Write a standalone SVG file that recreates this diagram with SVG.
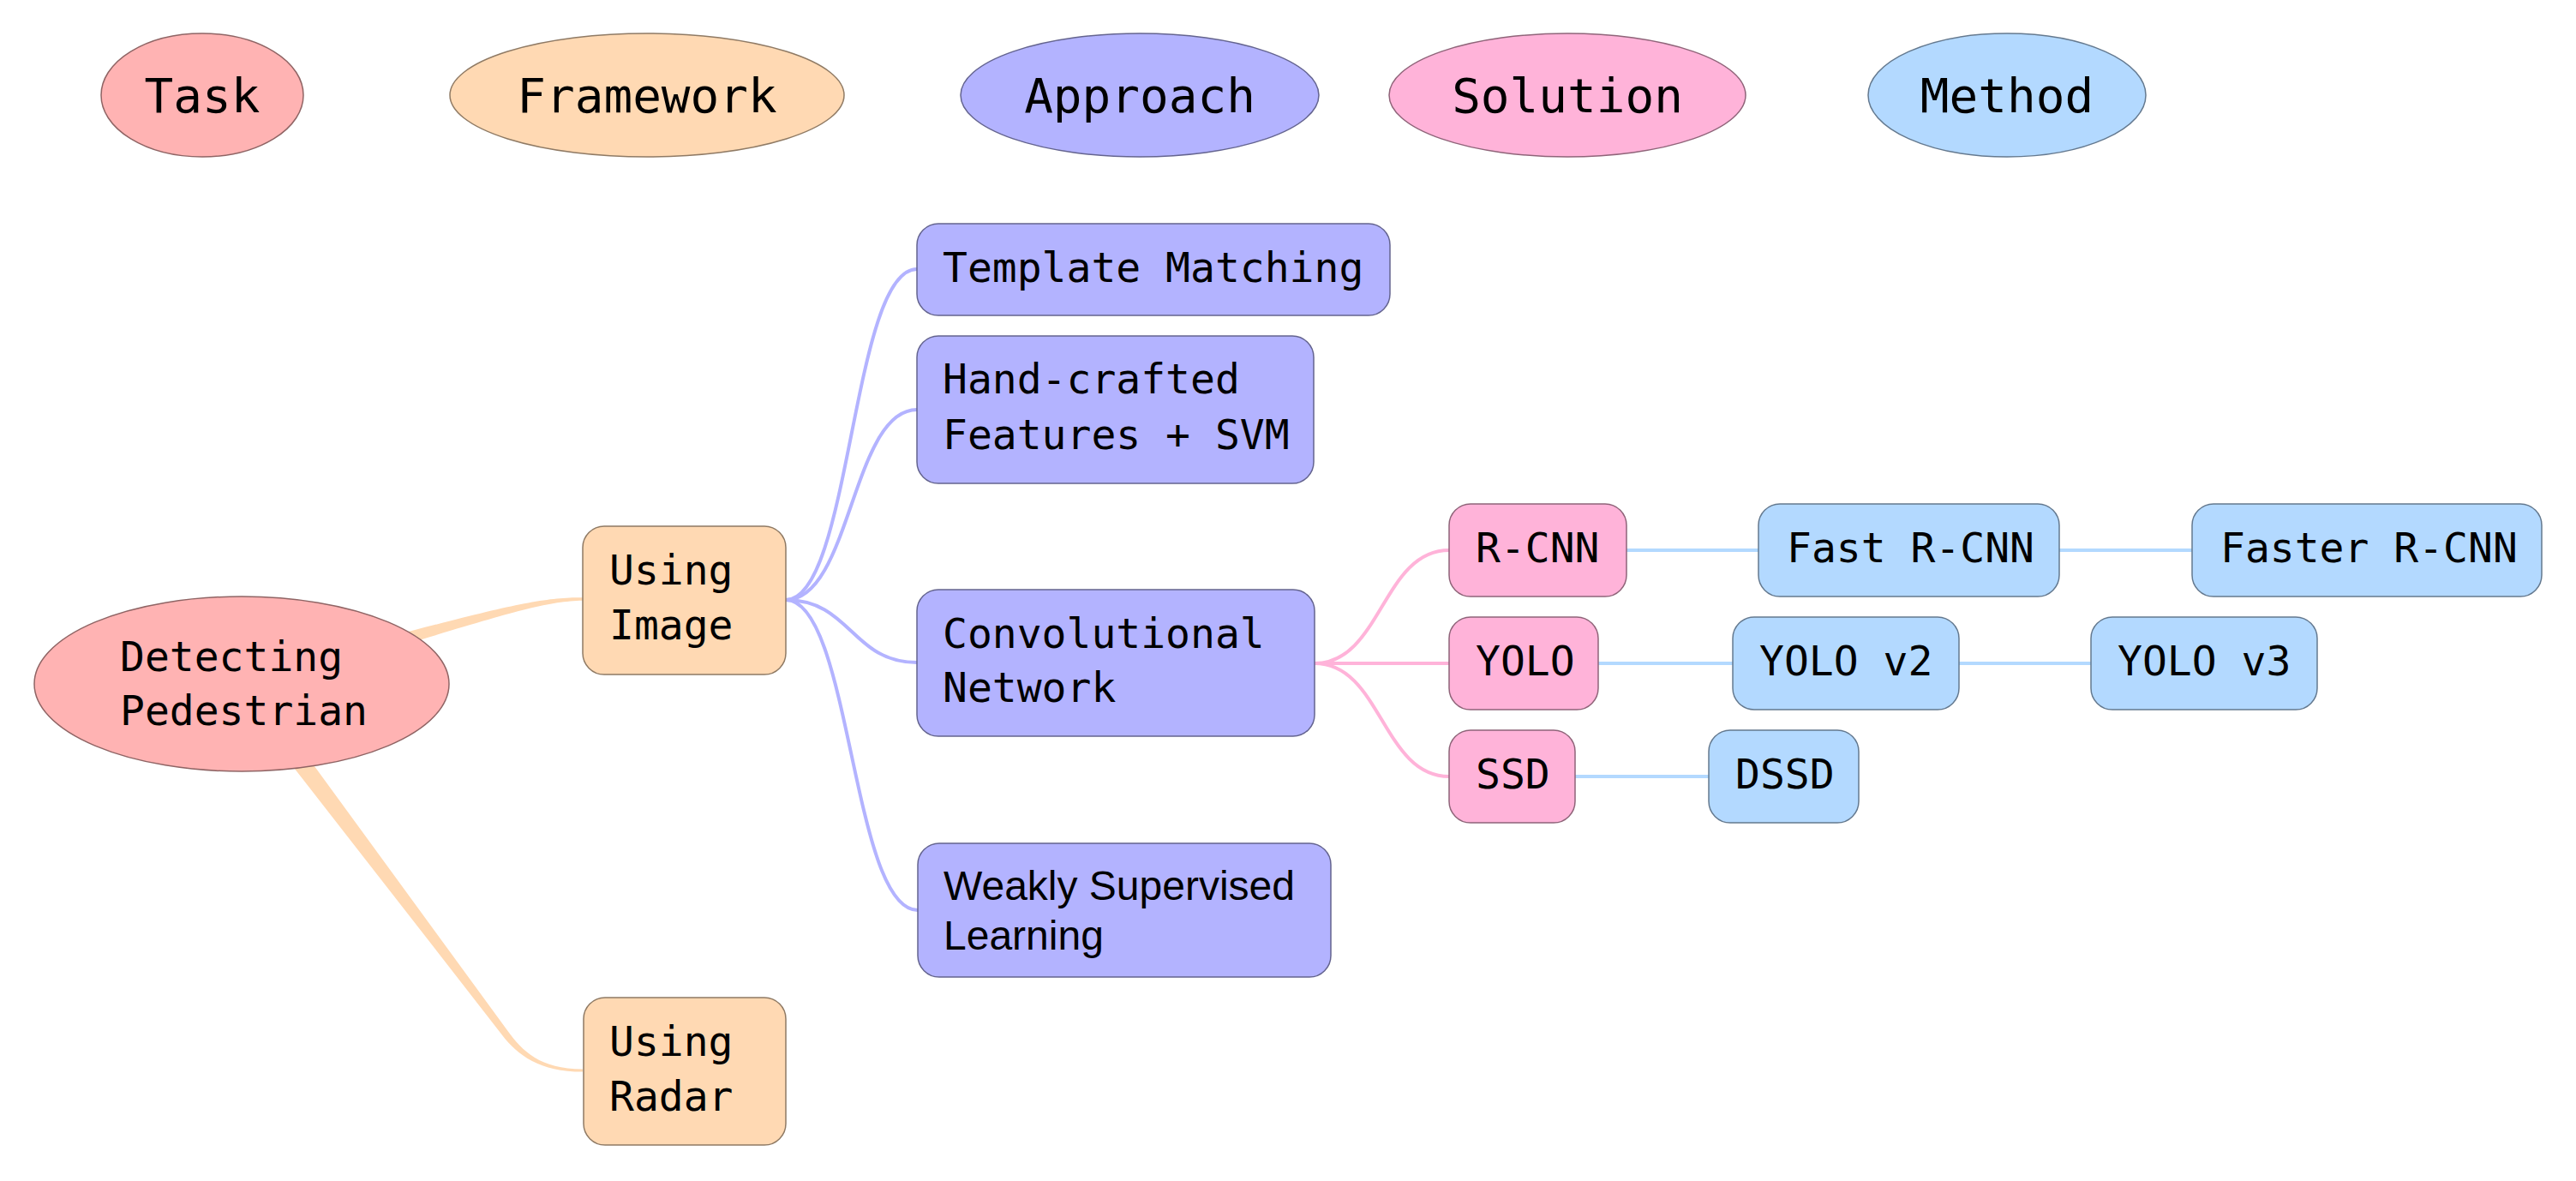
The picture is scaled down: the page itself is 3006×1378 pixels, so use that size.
<svg xmlns="http://www.w3.org/2000/svg" width="3006" height="1378" viewBox="0 0 3006 1378">
<style>
.t{font-family:"DejaVu Sans Mono","Liberation Mono",monospace;font-size:48px;fill:#000}
.lg{font-family:"DejaVu Sans Mono","Liberation Mono",monospace;font-size:56px;fill:#000;text-anchor:middle}
.s{font-family:"Liberation Sans",Arial,sans-serif;font-size:48px;fill:#000}
.task{fill:#FFB3B3;stroke:#8F6464;stroke-width:1.5}
.fw{fill:#FFD9B3;stroke:#8F7A64;stroke-width:1.5}
.ap{fill:#B3B3FF;stroke:#64648F;stroke-width:1.5}
.so{fill:#FFB3D9;stroke:#8F6479;stroke-width:1.5}
.me{fill:#B3D9FF;stroke:#64798F;stroke-width:1.5}
.ca{fill:none;stroke:#B3B3FF;stroke-width:4}
.cs{fill:none;stroke:#FFB3D9;stroke-width:4}
.cm{fill:none;stroke:#B3D9FF;stroke-width:4}
.cf{fill:#FFD9B3;stroke:none}
</style>
<rect width="3006" height="1378" fill="#fff"/>
<g id="legend">
<g id="legend-task"><ellipse class="task" cx="236" cy="111" rx="118" ry="72"/><text class="lg" x="236" y="131">Task</text></g>
<g id="legend-framework"><ellipse class="fw" cx="755" cy="111" rx="230" ry="72"/><text class="lg" x="755" y="131">Framework</text></g>
<g id="legend-approach"><ellipse class="ap" cx="1330" cy="111" rx="209" ry="72"/><text class="lg" x="1330" y="131">Approach</text></g>
<g id="legend-solution"><ellipse class="so" cx="1829" cy="111" rx="208" ry="72"/><text class="lg" x="1829" y="131">Solution</text></g>
<g id="legend-method"><ellipse class="me" cx="2342" cy="111" rx="162" ry="72"/><text class="lg" x="2342" y="131">Method</text></g>
</g>
<g id="connectors">
<path class="cf" d="M 279.6 788.8 C 558.4 716.2 620 696 680 697.25 L 680 700.75 C 620 702 561.6 727.8 284.4 807.2 Z"/>
<path class="cf" d="M 291.6 790.8 L 592.2 1202.6 C 610 1226.8 630 1247.5 680 1247.5 L 680 1250.5 C 630 1250.5 604 1231.2 585.8 1207.4 L 272.4 805.2 Z"/>
<path class="ca" d="M 917 700 C 993 700 994 314 1070 314"/>
<path class="ca" d="M 917 700 C 993 700 994 478 1070 478"/>
<path class="ca" d="M 917 700 C 993 700 994 773 1070 773"/>
<path class="ca" d="M 917 700 C 993 700 994 1062 1071 1062"/>
<path class="cs" d="M 1534 774 C 1612 774 1613 642 1691 642"/>
<path class="cs" d="M 1534 774 L 1691 774"/>
<path class="cs" d="M 1534 774 C 1612 774 1613 906 1691 906"/>
<path class="cm" d="M 1898 642 L 2052 642"/>
<path class="cm" d="M 2403 642 L 2558 642"/>
<path class="cm" d="M 1865 774 L 2022 774"/>
<path class="cm" d="M 2286 774 L 2440 774"/>
<path class="cm" d="M 1838 906 L 1994 906"/>
</g>
<g id="detecting-pedestrian"><ellipse class="task" cx="282" cy="798" rx="242" ry="102"/><text class="t" x="140" y="783">Detecting</text><text class="t" x="140" y="846">Pedestrian</text></g>
<g id="using-image"><rect class="fw" x="680" y="614" width="237" height="173" rx="25"/><text class="t" x="711" y="682">Using</text><text class="t" x="711" y="746">Image</text></g>
<g id="using-radar"><rect class="fw" x="681" y="1164" width="236" height="172" rx="25"/><text class="t" x="711" y="1232">Using</text><text class="t" x="711" y="1296">Radar</text></g>
<g id="template-matching"><rect class="ap" x="1070" y="261" width="552" height="107" rx="25"/><text class="t" x="1100" y="329">Template Matching</text></g>
<g id="hand-crafted"><rect class="ap" x="1070" y="392" width="463" height="172" rx="25"/><text class="t" x="1100" y="459">Hand-crafted</text><text class="t" x="1100" y="524">Features + SVM</text></g>
<g id="convolutional-network"><rect class="ap" x="1070" y="688" width="464" height="171" rx="25"/><text class="t" x="1100" y="756">Convolutional</text><text class="t" x="1100" y="819">Network</text></g>
<g id="weakly-supervised"><rect class="ap" x="1071" y="984" width="482" height="156" rx="25"/><text class="s" x="1101" y="1050">Weakly Supervised</text><text class="s" x="1101" y="1108">Learning</text></g>
<g id="r-cnn"><rect class="so" x="1691" y="588" width="207" height="108" rx="25"/><text class="t" x="1722" y="656">R-CNN</text></g>
<g id="fast-r-cnn"><rect class="me" x="2052" y="588" width="351" height="108" rx="25"/><text class="t" x="2085" y="656">Fast R-CNN</text></g>
<g id="faster-r-cnn"><rect class="me" x="2558" y="588" width="408" height="108" rx="25"/><text class="t" x="2591" y="656">Faster R-CNN</text></g>
<g id="yolo"><rect class="so" x="1691" y="720" width="174" height="108" rx="25"/><text class="t" x="1722" y="788">YOLO</text></g>
<g id="yolo-v2"><rect class="me" x="2022" y="720" width="264" height="108" rx="25"/><text class="t" x="2053" y="788">YOLO v2</text></g>
<g id="yolo-v3"><rect class="me" x="2440" y="720" width="264" height="108" rx="25"/><text class="t" x="2471" y="788">YOLO v3</text></g>
<g id="ssd"><rect class="so" x="1691" y="852" width="147" height="108" rx="25"/><text class="t" x="1722" y="920">SSD</text></g>
<g id="dssd"><rect class="me" x="1994" y="852" width="175" height="108" rx="25"/><text class="t" x="2025" y="920">DSSD</text></g>
</svg>
